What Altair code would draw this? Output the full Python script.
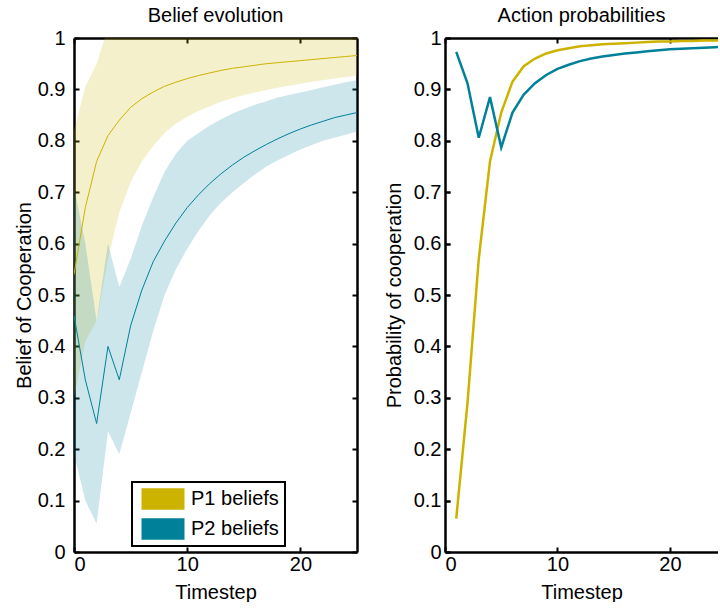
import altair as alt
import pandas as pd

# ---------------- data ----------------
timestep = list(range(0, 26))
p1_mean = [0.54, 0.67, 0.76, 0.81, 0.84, 0.865, 0.882, 0.895, 0.906, 0.914, 0.921, 0.927, 0.932,
           0.937, 0.941, 0.944, 0.947, 0.950, 0.952, 0.954, 0.956, 0.958, 0.960, 0.962, 0.964, 0.966]
p1_low = [0.30, 0.41, 0.45, 0.57, 0.66, 0.72, 0.76, 0.79, 0.815, 0.833, 0.847, 0.858, 0.867,
          0.876, 0.883, 0.889, 0.894, 0.899, 0.903, 0.907, 0.911, 0.915, 0.918, 0.921, 0.924, 0.927]
# the upper edge of the P1 band runs off the top of the axes from timestep 3 on
p1_high = [0.82, 0.905, 0.95, 1.02, 1.01, 1.0, 1.0, 1.0, 1.0, 1.0, 1.0, 1.0, 1.0,
           1.0, 1.0, 1.0, 1.0, 1.0, 1.0, 1.0, 1.0, 1.0, 1.0, 1.0, 1.0, 1.0]
p2_mean = [0.46, 0.335, 0.25, 0.40, 0.335, 0.44, 0.51, 0.565, 0.605, 0.64, 0.67, 0.695, 0.717,
           0.736, 0.753, 0.768, 0.781, 0.793, 0.804, 0.814, 0.823, 0.831, 0.838, 0.845, 0.850, 0.855]
p2_low = [0.19, 0.10, 0.055, 0.235, 0.19, 0.27, 0.35, 0.43, 0.50, 0.55, 0.59, 0.625, 0.655,
          0.68, 0.70, 0.718, 0.735, 0.75, 0.762, 0.773, 0.783, 0.792, 0.80, 0.806, 0.812, 0.818]
p2_high = [0.71, 0.60, 0.45, 0.60, 0.515, 0.57, 0.635, 0.69, 0.74, 0.775, 0.80, 0.815, 0.83,
           0.842, 0.853, 0.862, 0.87, 0.877, 0.884, 0.889, 0.894, 0.899, 0.904, 0.909, 0.914, 0.918]

action_step = list(range(1, 26))
p1_action = [0.065, 0.29, 0.57, 0.76, 0.855, 0.915, 0.945, 0.96, 0.97, 0.976, 0.98, 0.984, 0.986,
             0.988, 0.989, 0.990, 0.991, 0.992, 0.993, 0.993, 0.994, 0.994, 0.995, 0.995, 0.995]
p2_action = [0.973, 0.912, 0.806, 0.885, 0.787, 0.855, 0.89, 0.912, 0.928, 0.94, 0.948, 0.955, 0.96,
             0.964, 0.967, 0.97, 0.972, 0.974, 0.976, 0.978, 0.979, 0.98, 0.981, 0.982, 0.983]

series_names = ["P1 beliefs", "P2 beliefs"]
x_ticks = [0, 10, 20]
y_ticks = [0, 0.1, 0.2, 0.3, 0.4, 0.5, 0.6, 0.7, 0.8, 0.9, 1]

# ---------------- styling ----------------
FONT = "Liberation Sans"
FS = 20
YEL = "#CCB300"
BLU = "#008099"
H = 514
W_LEFT = 283
W_RIGHT = 273          # the right panel is cut off by the window edge in the reference

bands = pd.concat([
    pd.DataFrame({"t": timestep, "lo": p1_low, "hi": p1_high, "series": series_names[0]}),
    pd.DataFrame({"t": timestep, "lo": p2_low, "hi": p2_high, "series": series_names[1]}),
])
means = pd.DataFrame({"t": timestep, "p1": p1_mean, "p2": p2_mean})
actions = pd.DataFrame({"t": action_step, "p1": p1_action, "p2": p2_action})

xs_left = alt.Scale(domain=[0, 25], nice=False, zero=False)
xs_right = alt.Scale(domain=[0, 24.27], nice=False, zero=False)
ys = alt.Scale(domain=[0, 1], nice=False)


def axes(W, xtitle, ytitle, ylab_pad, ytitle_pad, right_frame=True):
    common = dict(grid=False, labelFont=FONT, titleFont=FONT, labelFontSize=FS, titleFontSize=FS,
                  labelColor="black", titleColor="black", titleFontWeight="normal")
    x_main = alt.Axis(orient="bottom", values=x_ticks, format="d", ticks=False, domainColor="black",
                      domainWidth=2.5, labelPadding=2, title=xtitle, titlePadding=8, **common)
    x_in_bottom = alt.Axis(orient="top", offset=-H, values=x_ticks, labels=False, domain=False,
                           tickSize=5, tickWidth=2, tickColor="black", title=None, grid=False)
    x_in_top = alt.Axis(orient="bottom", offset=-H, values=x_ticks, labels=False, domain=True,
                        domainColor="black", domainWidth=2.5, tickSize=5, tickWidth=2,
                        tickColor="black", title=None, grid=False)
    y_main = alt.Axis(orient="left", values=y_ticks, format="~g", ticks=False, domainColor="black",
                      domainWidth=2.5, labelPadding=ylab_pad, title=ytitle, titlePadding=ytitle_pad,
                      **common)
    y_in_left = alt.Axis(orient="right", offset=-W, values=y_ticks, labels=False, domain=False,
                         tickSize=5, tickWidth=2, tickColor="black", title=None, grid=False)
    y_in_right = alt.Axis(orient="left", offset=-W, values=y_ticks, labels=False,
                          domain=right_frame, domainColor="black", domainWidth=2.5, tickSize=5,
                          tickWidth=2, tickColor="black", title=None, grid=False)
    return (x_main, x_in_bottom, x_in_top), (y_main, y_in_left, y_in_right)


def panel_title(text):
    return alt.Title(text, font=FONT, fontSize=FS, fontWeight="normal", color="black",
                     baseline="alphabetic", offset=-14)


# ---------------- left panel ----------------
(xa, xb, xc), (ya, yb, yc) = axes(W_LEFT, "Timestep", "Belief of Cooperation", 9, 3)

legend = alt.Legend(title=None, orient="none", legendX=58, legendY=444, direction="vertical",
                    symbolType="M-2,-1H2V1H-2Z", symbolSize=462, symbolOffset=14,
                    symbolOpacity=1, symbolStrokeWidth=0, labelFont=FONT, labelFontSize=FS,
                    labelColor="black", labelOffset=17, padding=6, rowPadding=8,
                    strokeColor="black", fillColor="white")

band_layer = alt.Chart(bands).mark_area(opacity=0.2, clip=True).encode(
    x=alt.X("t:Q", scale=xs_left, axis=xa),
    y=alt.Y("lo:Q", scale=ys, axis=ya),
    y2="hi:Q",
    color=alt.Color("series:N", scale=alt.Scale(domain=series_names, range=[YEL, BLU]),
                    legend=legend),
)
p1_line = alt.Chart(means).mark_line(color=YEL, strokeWidth=1, clip=True).encode(
    x=alt.X("t:Q", scale=xs_left, axis=xb),
    y=alt.Y("p1:Q", scale=ys, axis=yb),
)
p2_line = alt.Chart(means).mark_line(color=BLU, strokeWidth=1, clip=True).encode(
    x=alt.X("t:Q", scale=xs_left, axis=xc),
    y=alt.Y("p2:Q", scale=ys, axis=yc),
)
left = alt.layer(band_layer, p2_line, p1_line).resolve_axis(
    x="independent", y="independent"
).properties(width=W_LEFT, height=H, title=panel_title("Belief evolution"))

# ---------------- right panel ----------------
(xa2, xb2, xc2), (ya2, yb2, yc2) = axes(W_RIGHT, "Timestep", "Probability of cooperation", 4, 9,
                                        right_frame=False)

a1 = alt.Chart(actions).mark_line(color=YEL, strokeWidth=2.5, clip=True).encode(
    x=alt.X("t:Q", scale=xs_right, axis=xa2),
    y=alt.Y("p1:Q", scale=ys, axis=ya2),
)
a2 = alt.Chart(actions).mark_line(color=BLU, strokeWidth=2.5, clip=True).encode(
    x=alt.X("t:Q", scale=xs_right, axis=xb2),
    y=alt.Y("p2:Q", scale=ys, axis=yb2),
)
a3 = alt.Chart(actions).mark_line(opacity=0, clip=True).encode(
    x=alt.X("t:Q", scale=xs_right, axis=xc2),
    y=alt.Y("p2:Q", scale=ys, axis=yb2),
)
right = alt.layer(a3, a1, a2).resolve_axis(
    x="independent", y="independent"
).properties(width=W_RIGHT, height=H, title=panel_title("Action probabilities"))

chart = alt.hconcat(left, right, spacing=88, bounds="flush").properties(
    padding={"left": 14, "top": 6, "right": 0, "bottom": 0},
    background="white",
).configure_view(strokeWidth=0).configure_legend(strokeWidth=2)

chart.save("out.html", embed_options={"renderer": "svg", "actions": False})
